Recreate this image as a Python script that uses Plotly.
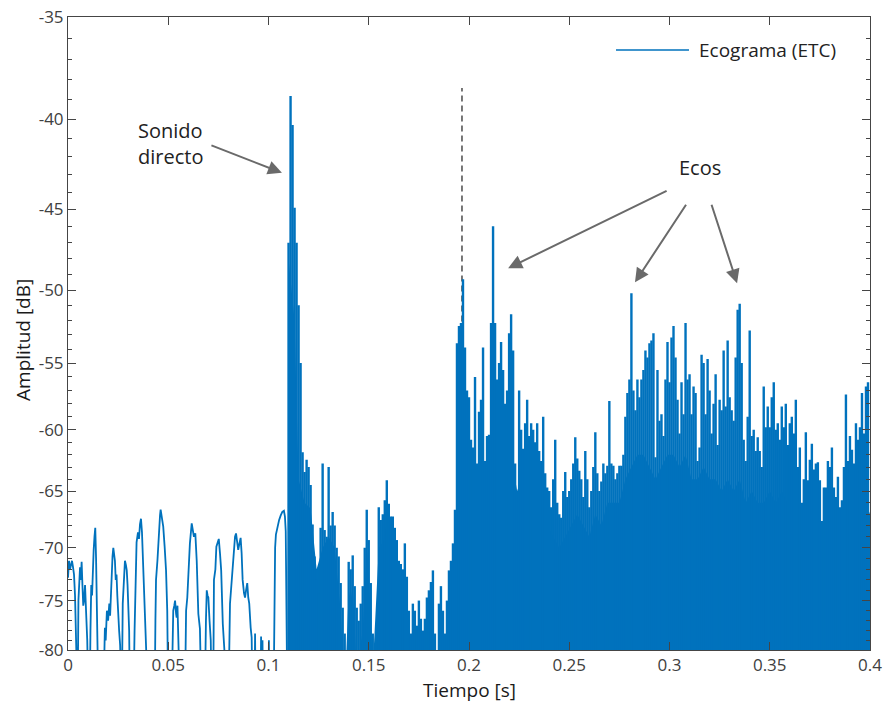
import numpy as np
import plotly.graph_objects as go

# ---------------- data ----------------
# quiet part before the direct sound: time in ms, level in dB
SMOOTH_T_MS = [
    0, 0.5, 1, 1.5, 2, 2.5, 3, 3.5, 4, 4.4,
    4.8, 5.2, 5.6, 6.0, 6.4, 6.8, 7.2, 7.6, 8.0, 8.5, 9.0, 9.6, 10.2,
    10.8, 11.2, 11.6, 12.0, 12.4, 12.8, 13.2, 13.6, 14.0, 14.4, 14.8, 15.2,
    17.6, 18.0, 18.4, 18.8, 19.4, 20.0, 20.6, 21.0, 21.4, 21.8, 22.2, 22.6, 23.0, 23.4, 23.8, 24.2, 24.6, 25.0, 25.5, 26.0, 26.4,
    26.8, 27.3, 27.9, 28.4, 28.9, 29.3, 29.7, 30.1, 30.5, 30.9,
    32.6, 33.2, 33.6, 34.2, 34.9, 35.4, 35.9, 36.4, 36.9, 37.6, 38.4, 39.0, 39.3,
    43.2, 43.6, 43.9, 44.6, 45.2, 45.9, 46.2, 46.9, 47.5, 48.2, 48.9, 49.5, 50.0,
    51.6, 52.2, 52.5, 53.0, 53.4, 53.9, 54.2, 54.6, 55.0, 55.5, 55.9,
    58.3, 58.9, 59.5, 60.0, 60.8, 61.7, 62.2, 62.8, 63.5, 64.2, 65.0, 65.8, 66.6,
    68.2, 68.8, 69.2, 69.6, 70.0, 70.6, 71.2, 71.7,
    72.4, 72.8, 73.5, 74.0, 74.6, 75.2, 75.8, 76.4, 77.2, 78.0, 78.3,
    80.0, 80.8, 81.5, 82.1, 82.8, 83.3, 83.8, 84.5, 84.9, 85.5, 86.1, 86.6, 87.1, 87.8, 88.3, 88.8, 89.4, 89.9, 90.4, 91.1, 91.6, 92.1,
    93.0, 93.3, 93.6, 96.0, 96.3, 96.6, 97.0, 97.3, 100.0, 100.2, 100.5,
    102.5, 102.9, 103.3, 103.7, 104.5, 105.3, 106.1, 106.9, 107.7, 108.2, 108.6, 109.0, 109.4,
]
SMOOTH_DB = [
    -72.8, -71.2, -72.0, -71.4, -71.2, -71.8, -72.5, -74.5, -79.0, -86,
    -86, -75.0, -72.0, -71.8, -73.0, -71.3, -73.5, -75.5, -75.0, -73.5, -76.0, -79.0, -86,
    -86, -78.0, -73.5, -74.5, -71.0, -70.2, -69.0, -68.2, -71.0, -76.0, -80.0, -86,
    -86, -80.0, -77.7, -79.0, -76.0, -77.0, -75.3, -76.5, -74.0, -72.5, -70.8, -70.0, -70.5, -71.2, -73.0, -72.5, -74.5, -76.7, -78.0, -79.5, -86,
    -86, -75.3, -73.0, -71.2, -71.6, -72.1, -73.5, -75.3, -78.0, -86,
    -86, -78.0, -73.6, -69.5, -68.6, -69.2, -67.9, -67.4, -68.6, -72.1, -76.0, -80.0, -86,
    -86, -77.0, -73.0, -71.2, -68.8, -67.1, -66.6, -67.3, -68.1, -69.9, -72.1, -76.0, -86,
    -86, -79.0, -76.0, -75.5, -75.0, -76.3, -76.7, -75.5, -78.7, -80.0, -86,
    -86, -76.0, -74.7, -72.1, -69.6, -67.8, -68.4, -69.0, -68.7, -71.2, -76.3, -77.8, -86,
    -86, -77.0, -74.0, -74.5, -74.7, -77.0, -79.0, -86,
    -86, -73.0, -72.0, -69.9, -69.5, -69.2, -70.5, -72.1, -77.3, -80.0, -86,
    -86, -75.3, -73.3, -72.1, -69.9, -69.0, -68.7, -69.5, -70.2, -69.6, -69.1, -70.5, -73.0, -74.3, -74.7, -74.0, -73.3, -74.7, -75.3, -77.7, -78.7, -86,
    -86, -78.3, -86, -86, -78.6, -86, -79.0, -86, -86, -79.0, -86,
    -86, -75.9, -70.0, -68.8, -68.0, -67.5, -67.1, -66.8, -66.7, -67.2, -68.5, -74.0, -86,
]

# dense part: one peak value per millisecond, starting at 110 ms
SPIKE_START_MS = 110
SPIKE_DB = [
    -47.0, -38.8, -40.3, -44.9, -47.0, -51.0, -55.0, -61.8, -63.4, -62.4,
    -63.0, -64.5, -67.9, -70.8, -73.0, -74.3, -68.2, -62.7, -68.4, -69.0,
    -63.0, -68.0, -66.8, -68.0, -70.0, -70.8, -73.3, -75.7, -78.3, -84.0,
    -71.3, -72.0, -70.7, -73.6, -75.7, -77.0, -75.3, -73.6, -70.0, -66.6,
    -69.3, -73.3, -78.3, -84.0, -84.0, -66.4, -67.5, -67.0, -65.8, -64.1,
    -66.1, -67.2, -67.2, -68.2, -69.3, -71.2, -71.5, -72.0, -69.6, -72.7,
    -76.0, -78.3, -75.3, -76.0, -77.5, -75.0, -76.8, -78.0, -76.8, -74.7,
    -74.0, -73.2, -72.1, -78.3, -80.5, -75.3, -73.6, -76.0, -78.3, -75.0,
    -72.1, -71.2, -69.6, -66.6, -53.6, -52.4, -52.2, -49.3, -53.9, -57.0,
    -57.5, -60.8, -61.4, -56.0, -62.7, -58.6, -57.7, -53.9, -62.5, -60.5,
    -60.4, -52.2, -46.0, -52.2, -56.2, -55.0, -53.5, -55.5, -58.0, -57.0,
    -52.9, -51.6, -54.1, -62.7, -65.0, -57.0, -60.0, -61.5, -59.5, -57.7,
    -60.5, -59.5, -60.0, -61.0, -59.5, -61.7, -62.5, -59.0, -63.5, -64.7,
    -65.0, -66.4, -64.0, -60.8, -66.0, -67.0, -67.3, -65.0, -63.4, -65.5,
    -65.0, -64.0, -62.7, -60.6, -62.3, -63.3, -64.0, -65.5, -61.7, -64.0,
    -66.4, -65.0, -63.0, -60.2, -63.5, -65.0, -64.2, -62.7, -63.5, -62.9,
    -57.8, -62.7, -62.9, -64.0, -63.5, -62.9, -62.9, -62.0, -59.0, -57.2,
    -56.2, -50.2, -57.0, -58.5, -56.2, -57.5, -56.2, -55.5, -54.1, -54.6,
    -53.6, -53.4, -52.9, -62.2, -55.5, -59.3, -58.8, -60.5, -56.2, -53.5,
    -56.4, -53.2, -52.4, -54.6, -57.7, -60.3, -56.4, -58.8, -52.2, -56.2,
    -55.8, -58.8, -56.7, -57.2, -62.5, -61.4, -54.4, -55.0, -58.8, -54.7,
    -57.0, -60.3, -58.0, -55.8, -61.2, -57.7, -58.5, -54.1, -58.2, -53.4,
    -57.5, -58.5, -59.3, -54.6, -51.3, -50.9, -55.0, -60.8, -62.5, -59.0,
    -52.7, -60.5, -60.0, -61.7, -60.6, -61.7, -63.0, -56.7, -59.8, -58.2,
    -59.8, -57.5, -56.4, -60.0, -59.5, -60.8, -58.2, -59.8, -58.0, -61.2,
    -59.5, -59.0, -60.3, -57.7, -63.0, -61.4, -66.0, -64.0, -60.2, -64.1,
    -62.4, -61.1, -63.2, -62.7, -62.6, -64.1, -67.6, -64.7, -64.7, -62.5,
    -63.0, -61.4, -64.7, -65.5, -63.8, -66.4, -65.8, -63.0, -57.3, -62.5,
    -60.5, -61.6, -62.7, -59.5, -60.8, -59.8, -57.2, -60.3, -56.7, -56.4,
]

# level below which the dense part looks solid
BODY_T_MS = [
    109.5, 110, 113, 115, 118, 121, 124, 127, 130, 133, 136, 138,
    140, 141, 142, 143, 144, 147, 148, 149, 150, 151, 152,
    155, 157, 159, 161, 163, 165, 167, 168, 170, 171,
    178, 180, 181, 182, 183, 186, 187, 189, 190, 191, 192, 193, 193.8,
    194, 196, 198, 200, 202, 204, 206, 208, 210, 212, 214, 216, 218, 220,
    222, 224, 226, 228, 230, 233, 236, 239, 242, 245, 248, 251, 254, 257,
    260, 263, 266, 269, 272, 275, 278, 281, 284, 287, 290, 293, 296, 299,
    302, 305, 308, 311, 314, 317, 320, 323, 326, 329, 332, 335, 338, 341,
    344, 347, 350, 353, 356, 359, 362, 365, 368, 371, 374, 377, 380, 383,
    386, 389, 392, 395, 398, 400,
]
BODY_DB = [
    -85, -48, -52, -64, -66, -66.5, -72, -70, -69, -70, -76, -85,
    -74, -75, -73.5, -77, -82, -78, -73, -70, -72, -77, -82,
    -70, -69.5, -67.5, -69, -70.5, -73, -74, -72.5, -79, -82,
    -80, -77, -76, -75.5, -82, -78, -80, -78, -75, -73.5, -72, -70, -69,
    -59, -58, -60, -62, -63, -64, -62, -64, -62, -59, -59, -58, -60, -60,
    -63, -65, -64, -64, -65, -65, -67, -68, -69, -70, -69, -68, -67, -68,
    -69, -67, -68, -66, -66, -66, -64, -63, -62, -62, -63, -64, -63, -62,
    -62, -63, -62, -64, -64, -63, -64, -64, -65, -64, -65, -64, -66, -65,
    -66, -66, -65, -66, -65, -66, -66, -68, -67, -67, -68, -69, -68, -69,
    -69, -68, -67, -67, -66, -67,
]

ECHO_MARK_T = 0.1965        # dashed marker
ECHO_MARK_TOP_DB = -38.4

Y_TICKS_DB = [-35, -40, -45, -50, -55, -60, -65, -70, -75, -80]
Y_MINOR_DB = [d for d in range(-79, -35) if d % 5 != 0]
X_TICKS = [0, 0.05, 0.1, 0.15, 0.2, 0.25, 0.3, 0.35, 0.4]
X_TICK_TEXT = ["0", "0.05", "0.1", "0.15", "0.2", "0.25", "0.3", "0.35", "0.4"]

assert len(SMOOTH_T_MS) == len(SMOOTH_DB)
assert len(BODY_T_MS) == len(BODY_DB)

# ---------------- styling ----------------
BLUE = "#0072BD"
AXC = "#454545"
TXT = "#404040"
ARROW = "#6a6a6a"
FONT = "Open Sans"
FLOOR_DB = -95  # below the visible range


def mag(db):
    """Plotted quantity: the magnitude of the dB value (axis is log, reversed)."""
    return [-float(d) for d in db]


def logy(db):
    return float(np.log10(-db))


fig = go.Figure()

# dashed vertical marker
fig.add_trace(go.Scatter(
    x=[ECHO_MARK_T, ECHO_MARK_T], y=mag([FLOOR_DB, ECHO_MARK_TOP_DB]),
    mode="lines", line=dict(color="#555555", width=1.6, dash="6px,4px"),
    showlegend=False, hoverinfo="skip"))

# solid body of the dense part
bt = [t / 1000 for t in BODY_T_MS]
fig.add_trace(go.Scatter(
    x=bt + [bt[-1], bt[0]], y=mag(BODY_DB) + mag([FLOOR_DB, FLOOR_DB]),
    fill="toself", fillcolor=BLUE, mode="lines", line=dict(width=0, color=BLUE),
    showlegend=False, hoverinfo="skip"))

# spikes
sx, sy = [], []
for i, d in enumerate(SPIKE_DB):
    t = (SPIKE_START_MS + i) / 1000
    sx += [t, t, None]
    sy += [-FLOOR_DB, -d, None]
fig.add_trace(go.Scatter(
    x=sx, y=sy, mode="lines", line=dict(color=BLUE, width=2.4),
    connectgaps=False, name="Ecograma (ETC)", showlegend=False))

# early smooth part
fig.add_trace(go.Scatter(
    x=[t / 1000 for t in SMOOTH_T_MS], y=mag(SMOOTH_DB), mode="lines",
    line=dict(color=BLUE, width=1.8), name="Ecograma (ETC)", showlegend=False))

fig.update_layout(
    width=886, height=702,
    margin=dict(l=68, r=16, t=17, b=52),
    paper_bgcolor="white", plot_bgcolor="white",
    font=dict(family=FONT, color=TXT),
    showlegend=False,
)

fig.update_xaxes(
    range=[0, 0.4], tickmode="array", tickvals=X_TICKS, ticktext=X_TICK_TEXT,
    ticks="inside", ticklen=8, tickwidth=1, tickcolor=AXC,
    showline=True, linecolor=AXC, linewidth=1, mirror="ticks",
    showgrid=False, zeroline=False, automargin=False,
    tickfont=dict(family=FONT, size=17, color=TXT),
)
fig.update_yaxes(
    type="log", range=[np.log10(80), np.log10(35)],
    tickmode="array", tickvals=mag(Y_TICKS_DB), ticktext=[str(d) for d in Y_TICKS_DB],
    ticks="inside", ticklen=8, tickwidth=1, tickcolor=AXC,
    minor=dict(tickmode="array", tickvals=mag(Y_MINOR_DB), ticks="inside",
               ticklen=4, tickwidth=1, tickcolor=AXC),
    showline=True, linecolor=AXC, linewidth=1, mirror="ticks",
    showgrid=False, zeroline=False, automargin=False,
    tickfont=dict(family=FONT, size=17, color=TXT),
)

# axis titles
fig.add_annotation(text="Tiempo [s]", xref="paper", yref="paper", x=0.5, y=-0.063,
                   xanchor="center", yanchor="middle", showarrow=False,
                   font=dict(family=FONT, size=19, color="#1a1a1a"))
fig.add_annotation(text="Amplitud [dB]", xref="paper", yref="paper", x=-0.056, y=0.49,
                   xanchor="center", yanchor="middle", textangle=-90, showarrow=False,
                   font=dict(family=FONT, size=19, color="#1a1a1a"))

# manual legend
fig.add_shape(type="line", xref="paper", yref="paper", x0=0.6833, x1=0.7743,
              y0=0.9479, y1=0.9479, line=dict(color=BLUE, width=1.5))
fig.add_annotation(text="Ecograma (ETC)", xref="paper", yref="paper", x=0.784, y=0.9479,
                   xanchor="left", yanchor="middle", showarrow=False,
                   font=dict(family=FONT, size=19, color="#222222"))

# labels and arrows
fig.add_annotation(text="Sonido<br>directo", x=0.0509, y=logy(-41.27), xref="x", yref="y",
                   showarrow=False, align="left", xanchor="center", yanchor="middle",
                   font=dict(family=FONT, size=20, color="#222222"))
fig.add_annotation(text="Ecos", x=0.3152, y=logy(-42.58), xref="x", yref="y",
                   showarrow=False, xanchor="center", yanchor="middle",
                   font=dict(family=FONT, size=20, color="#222222"))

ARROWS = [  # head (t, dB), tail offset in px
    (0.1067, -42.9, -72, -28),
    (0.2195, -48.59, 160, -78),
    (0.2828, -49.49, 52, -79),
    (0.3337, -49.55, -26, -80),
]
for t, db, ax, ay in ARROWS:
    fig.add_annotation(text="", x=t, y=logy(db), xref="x", yref="y",
                       ax=ax, ay=ay, axref="pixel", ayref="pixel",
                       showarrow=True, arrowhead=2, arrowsize=1.4, arrowwidth=2,
                       arrowcolor=ARROW, standoff=0)

fig.write_html("out.html")
